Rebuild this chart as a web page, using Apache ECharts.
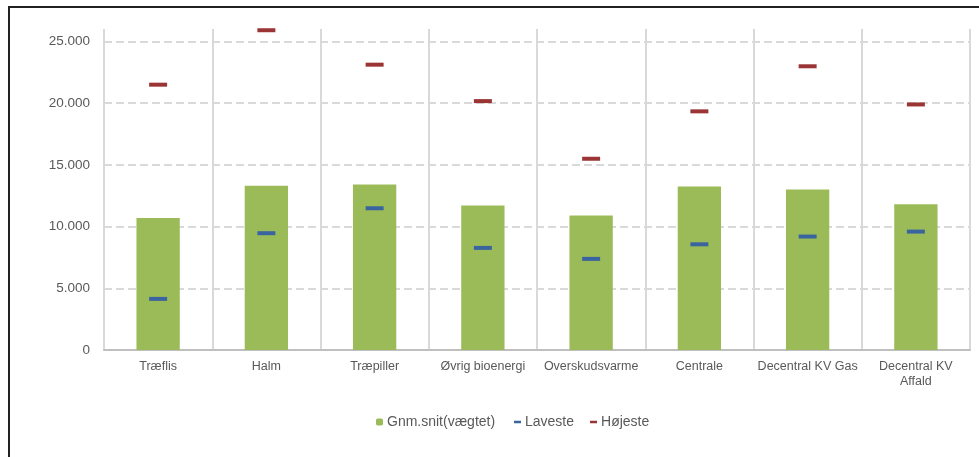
<!DOCTYPE html>
<html>
<head>
<meta charset="utf-8">
<script src="https://cdn.jsdelivr.net/npm/echarts@6/dist/echarts.min.js"></script>
<style>
  html, body { margin: 0; padding: 0; background: #fff; }
  #wrap { position: relative; width: 979px; height: 457px; overflow: hidden; }
  #chart { position: absolute; left: 0; top: 0; width: 979px; height: 457px; }
  #frame { position: absolute; left: 8px; top: 6px; right: -10px; bottom: -10px;
           border-top: 2px solid #222; border-left: 2px solid #222; pointer-events: none; }
</style>
</head>
<body>
<div id="wrap">
  <div id="chart"></div>
  <div id="frame"></div>
</div>
<script>
const categories = ['Træflis', 'Halm', 'Træpiller', 'Øvrig bioenergi', 'Overskudsvarme', 'Centrale', 'Decentral KV Gas', 'Decentral KV Affald'];
const tickLabels = ['Træflis', 'Halm', 'Træpiller', 'Øvrig bioenergi', 'Overskudsvarme', 'Centrale', 'Decentral KV Gas', 'Decentral KV\nAffald'];
const avgValues = [10700, 13300, 13400, 11700, 10900, 13250, 13000, 11800];
const lowValues = [4140, 9460, 11480, 8270, 7380, 8560, 9190, 9590];
const highValues = [21490, 25900, 23110, 20160, 15490, 19330, 22980, 19890];
const yTicks = [0, 5000, 10000, 15000, 20000, 25000];

const fmt = v => String(v).replace(/\B(?=(\d{3})+(?!\d))/g, '.');
const font = 'Liberation Sans, Arial, sans-serif';
const chart = echarts.init(document.getElementById('chart'), null, { renderer: 'canvas' });
chart.setOption({
  animation: false,
  textStyle: { fontFamily: font },
  grid: { left: 104, right: 9, top: 29, bottom: 107, containLabel: false },
  legend: [
    {
      data: ['Gnm.snit(vægtet)'],
      left: 371, top: 410,
      itemWidth: 7, itemHeight: 7, itemGap: 17,
      textStyle: { color: '#595959', fontSize: 14, fontFamily: font, padding: [0, 0, 0, -1] }
    },
    {
      data: ['Laveste', 'Højeste'],
      left: 509, top: 410,
      itemWidth: 7, itemHeight: 2.5, itemGap: 16,
      textStyle: { color: '#595959', fontSize: 14, fontFamily: font, padding: [0, 0, 0, -1] }
    }
  ],
  xAxis: {
    type: 'category',
    data: categories,
    boundaryGap: true,
    axisLine: { lineStyle: { color: '#bfbfbf', width: 2 } },
    axisTick: { show: false },
    splitLine: { show: true, lineStyle: { color: '#d9d9d9', width: 2 } },
    axisLabel: {
      color: '#595959', fontSize: 12.5, margin: 9, interval: 0, lineHeight: 15,
      formatter: (v, i) => tickLabels[i]
    }
  },
  yAxis: {
    type: 'value',
    min: 0, max: 26000, interval: 5000,
    axisLine: { show: false },
    axisTick: { show: false },
    axisLabel: {
      color: '#595959', fontSize: 13.5, margin: 14, showMaxLabel: false,
      formatter: v => yTicks.includes(v) ? fmt(v) : ''
    },
    splitLine: { show: true, showMaxLine: false, lineStyle: { color: '#d9d9d9', width: 2, type: [8, 4] } }
  },
  series: [
    {
      name: 'Gnm.snit(vægtet)',
      type: 'bar',
      data: avgValues,
      barWidth: '40%',
      itemStyle: { color: '#9bbb59' },
      z: 2
    },
    {
      name: 'Laveste',
      type: 'scatter',
      data: lowValues,
      symbol: 'rect',
      symbolSize: [18, 4],
      itemStyle: { color: '#3a64a0', opacity: 1 },
      z: 5
    },
    {
      name: 'Højeste',
      type: 'scatter',
      data: highValues,
      symbol: 'rect',
      symbolSize: [18, 4],
      itemStyle: { color: '#9b3535', opacity: 1 },
      z: 5
    }
  ]
});
</script>
</body>
</html>
